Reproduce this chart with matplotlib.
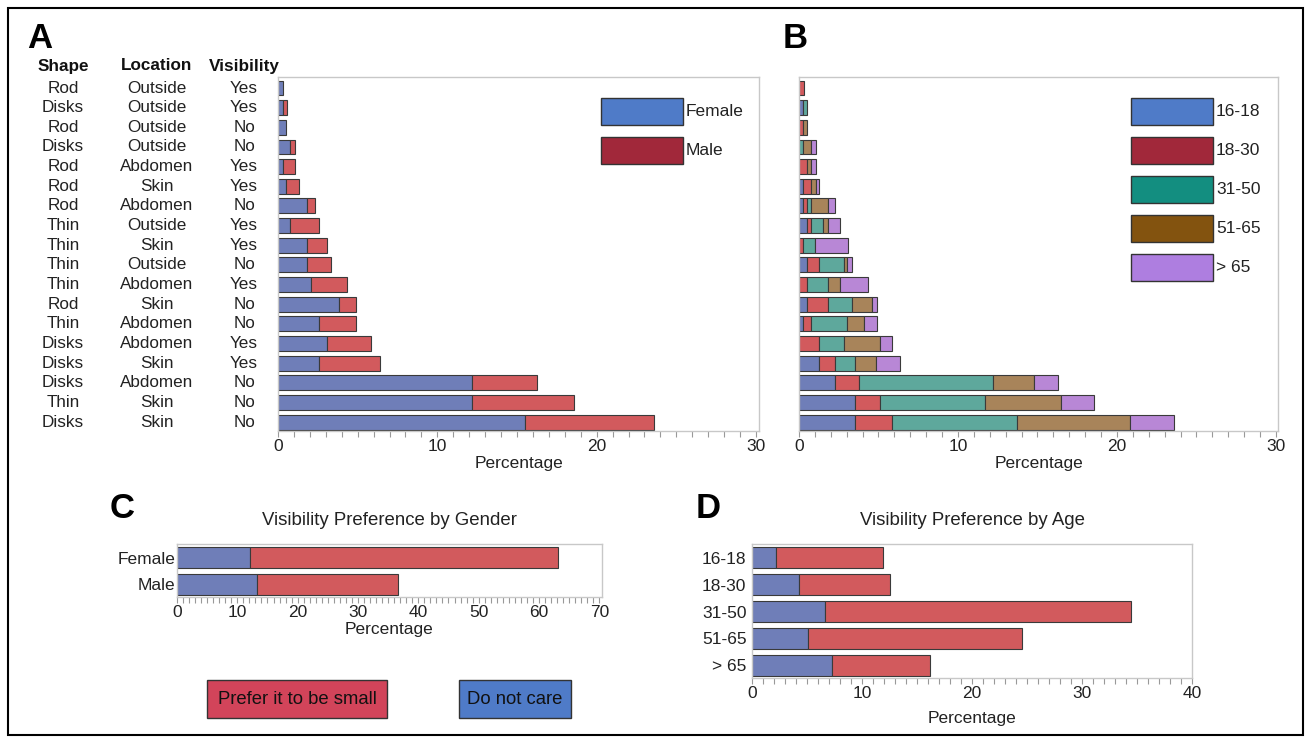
import matplotlib
matplotlib.use("Agg")
from matplotlib import pyplot as plt
from matplotlib import transforms
from matplotlib.patches import Rectangle
from matplotlib.ticker import MultipleLocator
import numpy as np

W, H = 1309, 743

# panel A / B rows (top to bottom)
shape = ["Rod", "Disks", "Rod", "Disks", "Rod", "Rod", "Rod", "Thin", "Thin",
         "Thin", "Thin", "Rod", "Thin", "Disks", "Disks", "Disks", "Thin", "Disks"]
location = ["Outside", "Outside", "Outside", "Outside", "Abdomen", "Skin", "Abdomen",
            "Outside", "Skin", "Outside", "Abdomen", "Skin", "Abdomen", "Abdomen",
            "Skin", "Abdomen", "Skin", "Skin"]
visibility = ["Yes", "Yes", "No", "No", "Yes", "Yes", "No", "Yes", "Yes", "No",
              "Yes", "No", "No", "Yes", "Yes", "No", "No", "No"]

female = [0.3, 0.3, 0.52, 0.77, 0.3, 0.5, 1.8, 0.77, 1.8, 1.8, 2.05, 3.8, 2.58,
          3.06, 2.58, 12.18, 12.18, 15.5]
male = [0, 0.25, 0, 0.28, 0.75, 0.8, 0.5, 1.81, 1.26, 1.53, 2.31, 1.07, 2.29,
        2.79, 3.82, 4.09, 6.37, 8.1]

age_groups = ["16-18", "18-30", "31-50", "51-65", "> 65"]
age_1618 = [0, 0.27, 0, 0, 0, 0.27, 0.27, 0.53, 0, 0.53, 0, 0.53, 0.27, 0, 1.28, 2.29, 3.55, 3.55]
age_1830 = [0.32, 0, 0.27, 0, 0.53, 0.51, 0.26, 0.25, 0.27, 0.75, 0.53, 1.28, 0.51, 1.28, 1.01, 1.51, 1.54, 2.30]
age_3150 = [0, 0.26, 0, 0.27, 0, 0, 0.25, 0.75, 0.76, 1.52, 1.28, 1.53, 2.27, 1.52, 1.26, 8.38, 6.62, 7.88]
age_5165 = [0, 0, 0.26, 0.51, 0.25, 0.27, 1.05, 0.30, 0, 0.25, 0.78, 1.25, 1.05, 2.27, 1.31, 2.58, 4.80, 7.11]
age_65 = [0, 0, 0, 0.27, 0.27, 0.23, 0.46, 0.76, 2.04, 0.28, 1.74, 0.29, 0.78, 0.78, 1.51, 1.52, 2.04, 2.76]

# panel C
genders = ["Female", "Male"]
gender_dont_care = [12.15, 13.26]
gender_small = [51.05, 23.44]

# panel D
age_dont_care = [2.18, 4.28, 6.65, 5.13, 7.25]
age_small = [9.75, 8.26, 27.85, 19.4, 8.92]

bar_blue = "#6F7EB8"
bar_red = "#D25A5D"
age_bar_colors = [bar_blue, bar_red, "#5EA89C", "#A8845A", "#B887D6"]
age_leg_colors = ["#4F7BC8", "#A1283A", "#138E80", "#83530F", "#AE7EE0"]
edge = "#3a3a3a"
spine_col = "#c8c8c8"
txt = "#222222"

plt.rcParams['font.family'] = ['Liberation Sans', 'DejaVu Sans']

fig = plt.figure(figsize=(W / 100, H / 100), dpi=100)


def add_ax(left, top, right, bottom):
    return fig.add_axes([left / W, 1 - bottom / H, (right - left) / W, (bottom - top) / H])


def style(ax, xmax, major, minor):
    ax.set_xlim(0, xmax)
    for s in ax.spines.values():
        s.set_color(spine_col)
        s.set_linewidth(1.0)
    ax.xaxis.set_major_locator(MultipleLocator(major))
    ax.xaxis.set_minor_locator(MultipleLocator(minor))
    ax.tick_params(axis='x', which='both', colors='#999999', labelcolor=txt,
                   labelsize=12.5, length=4, width=0.8, pad=2)
    ax.tick_params(axis='y', length=0)
    ax.set_xlabel("Percentage", fontsize=12.5, color=txt, labelpad=1)


def stacked(ax, y, parts, colors, h):
    left = np.zeros(len(y))
    for vals, c in zip(parts, colors):
        vals = np.array(vals, dtype=float)
        m = vals > 0
        ax.barh(y[m], vals[m], left=left[m], height=h, color=c,
                edgecolor=edge, linewidth=0.8)
        left += vals


def legend_box(x, y, w, h, color, label, inside=False):
    fig.patches.append(Rectangle((x / W, 1 - (y + h) / H), w / W, h / H,
                                 transform=fig.transFigure, facecolor=color,
                                 edgecolor='#333333', linewidth=1.0))
    if inside:
        fig.text((x + w / 2) / W, 1 - (y + h / 2) / H, label, ha='center',
                 va='center', fontsize=13.3, color='#111111')
    else:
        fig.text((x + w + 3) / W, 1 - (y + h / 2) / H, label, ha='left',
                 va='center', fontsize=12.5, color=txt)


# ---- panel A
axA = add_ax(278, 77, 759, 431)
yA = np.arange(len(shape))
stacked(axA, yA, [female, male], [bar_blue, bar_red], 0.76)
style(axA, 30.19, 10, 1)
axA.set_ylim(17.45, -0.56)
axA.set_yticks([])

tr = transforms.blended_transform_factory(fig.transFigure, axA.transData)
for xcol, col in [(63, shape), (157, location), (244, visibility)]:
    for yi, s in zip(yA, col):
        fig.text(xcol / W, yi, s, transform=tr, ha='center', va='center',
                 fontsize=12.3, color=txt)
for xcol, head in [(63, "Shape"), (157, "Location"), (244, "Visibility")]:
    fig.text(xcol / W, 1 - 66 / H, head, ha='center', va='center',
             fontsize=12.3, fontweight='bold', color='#111111')

legend_box(601, 98, 82, 27, "#4F7BC8", "Female")
legend_box(601, 137, 82, 27, "#A1283A", "Male")

# ---- panel B
axB = add_ax(799, 77, 1278, 431)
stacked(axB, yA, [age_1618, age_1830, age_3150, age_5165, age_65], age_bar_colors, 0.76)
style(axB, 30.13, 10, 1)
axB.set_ylim(17.45, -0.56)
axB.set_yticks([])

for i, (c, lab) in enumerate(zip(age_leg_colors, age_groups)):
    legend_box(1131, 98 + i * 39, 82, 27, c, lab)

# ---- panel C
axC = add_ax(177, 544, 602, 597)
yC = np.arange(len(genders))
stacked(axC, yC, [gender_dont_care, gender_small], [bar_blue, bar_red], 0.8)
style(axC, 70.45, 10, 1)
axC.set_ylim(1.47, -0.51)
axC.set_yticks(yC)
axC.set_yticklabels(genders, fontsize=12.5, color=txt)
axC.tick_params(axis='y', pad=1)
axC.set_title("Visibility Preference by Gender", fontsize=13.4, color=txt, pad=14)

legend_box(207, 680, 180, 38, "#D2445A", "Prefer it to be small", inside=True)
legend_box(459, 680, 112, 38, "#4F7BC8", "Do not care", inside=True)

# ---- panel D
axD = add_ax(752, 544, 1192, 678)
yD = np.arange(len(age_groups))
stacked(axD, yD, [age_dont_care, age_small], [bar_blue, bar_red], 0.78)
style(axD, 40.02, 10, 1)
axD.set_ylim(4.47, -0.51)
axD.set_yticks(yD)
axD.set_yticklabels(age_groups, fontsize=12.5, color=txt)
axD.tick_params(axis='y', pad=4)
axD.xaxis.labelpad = 7
axD.set_title("Visibility Preference by Age", fontsize=13.4, color=txt, pad=14)

# panel letters
for x, y, s in [(40, 38, "A"), (795, 38, "B"), (122, 509, "C"), (708, 509, "D")]:
    fig.text(x / W, 1 - y / H, s, ha='center', va='center', fontsize=25,
             fontweight='bold', color='black')

# outer border
fig.patches.append(Rectangle((8 / W, 1 - 735 / H), 1295 / W, 727 / H,
                             transform=fig.transFigure, fill=False,
                             edgecolor='black', linewidth=1.5))

fig.savefig("out.png", dpi=100)
